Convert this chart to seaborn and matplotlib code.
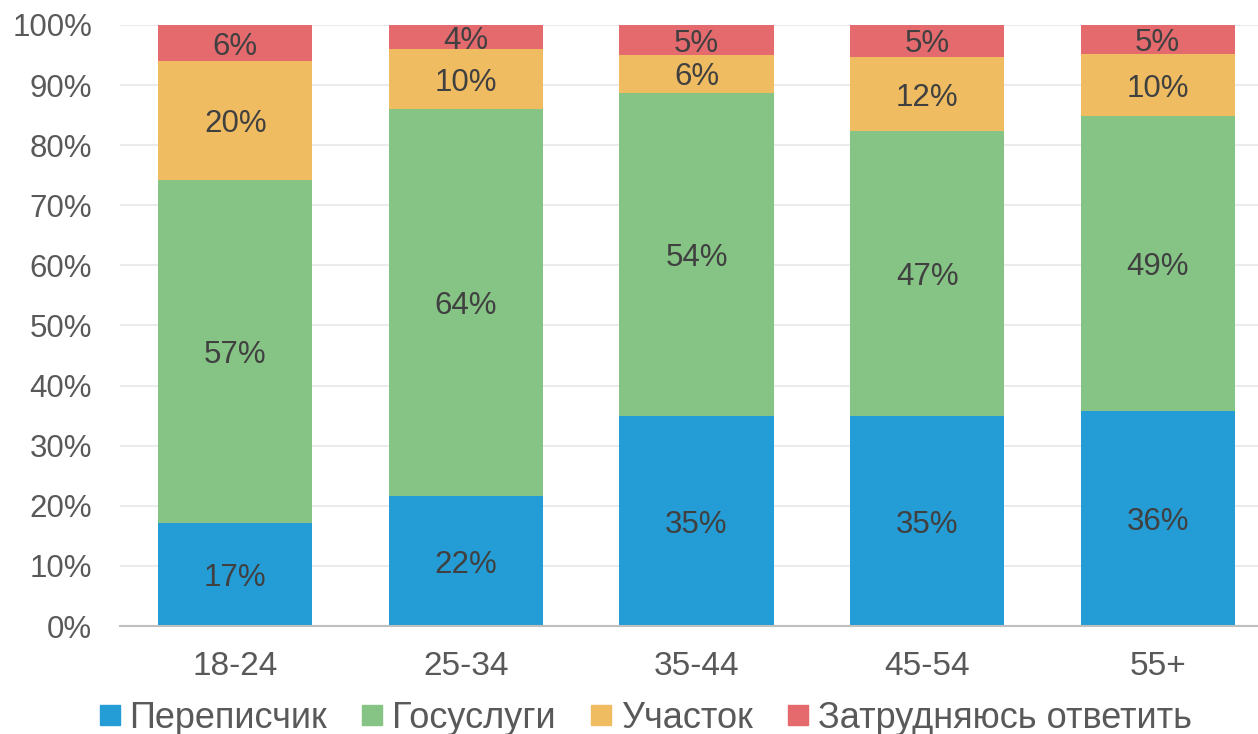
import pandas as pd
import seaborn as sns
import numpy as np
import matplotlib.pyplot as plt

# данные (проценты)
groups = ['18-24', '25-34', '35-44', '45-54', '55+']
series = ['Переписчик', 'Госуслуги', 'Участок', 'Затрудняюсь ответить']
perepischik = [17.1, 21.6, 34.9, 34.9, 35.8]
gosuslugi = [57.1, 64.4, 53.8, 47.4, 49.1]
uchastok = [19.8, 10.0, 6.3, 12.4, 10.2]
zatrudnyayus = [6.0, 4.0, 5.0, 5.3, 4.9]
colors = ['#249CD5', '#86C485', '#F0BC62', '#E46A6E']

df = pd.DataFrame({'group': groups,
                   series[0]: perepischik,
                   series[1]: gosuslugi,
                   series[2]: uchastok,
                   series[3]: zatrudnyayus})

sns.set_style('white')
plt.rcParams['font.family'] = ['Liberation Sans', 'DejaVu Sans']

fig = plt.figure(figsize=(12.58, 7.34), dpi=100)
ax = fig.add_axes([120 / 1258, 108 / 734, 1153 / 1258, 601 / 734])

# накопленные суммы, рисуем сверху вниз
cum = df[series].cumsum(axis=1)
for i in range(len(series) - 1, -1, -1):
    tmp = pd.DataFrame({'group': groups, 'val': cum[series[i]]})
    sns.barplot(data=tmp, x='group', y='val', color=colors[i], width=0.668,
                saturation=1, linewidth=0, ax=ax, zorder=2)

# подписи внутри сегментов
for i, s in enumerate(series):
    bottom = cum[s] - df[s]
    for j in range(len(groups)):
        ax.text(j, bottom[j] + df[s][j] / 2, f'{df[s][j]:.0f}%', ha='center',
                va='center_baseline', fontsize=22.5, color='#404040', zorder=3)

ax.set_ylim(0, 100)
ax.set_xlim(-0.5, 4.5)
ax.set_yticks(np.arange(0, 101, 10))
ax.set_yticklabels([f'{v}%' for v in range(0, 101, 10)])
ax.yaxis.grid(True, color='#EBEBEB', linewidth=1.5, zorder=0)
ax.set_axisbelow(True)
ax.set_xlabel('')
ax.set_ylabel('')
ax.tick_params(axis='y', labelsize=22.5, colors='#595959', length=0, pad=20)
ax.tick_params(axis='x', labelsize=24, colors='#595959', length=0, pad=18)
for sp in ['top', 'right', 'left']:
    ax.spines[sp].set_visible(False)
ax.spines['bottom'].set_color('#BFBFBF')
ax.spines['bottom'].set_linewidth(1.5)

handles = [plt.Line2D([], [], marker='s', linestyle='', markersize=15, color=c) for c in colors]
fig.legend(handles, series, loc='lower center', bbox_to_anchor=(0.51, -0.047), ncol=4,
           frameon=False, fontsize=26, labelcolor='#595959', handletextpad=0.05,
           columnspacing=0.75, handlelength=1.0)

fig.savefig('out.png', dpi=100)
